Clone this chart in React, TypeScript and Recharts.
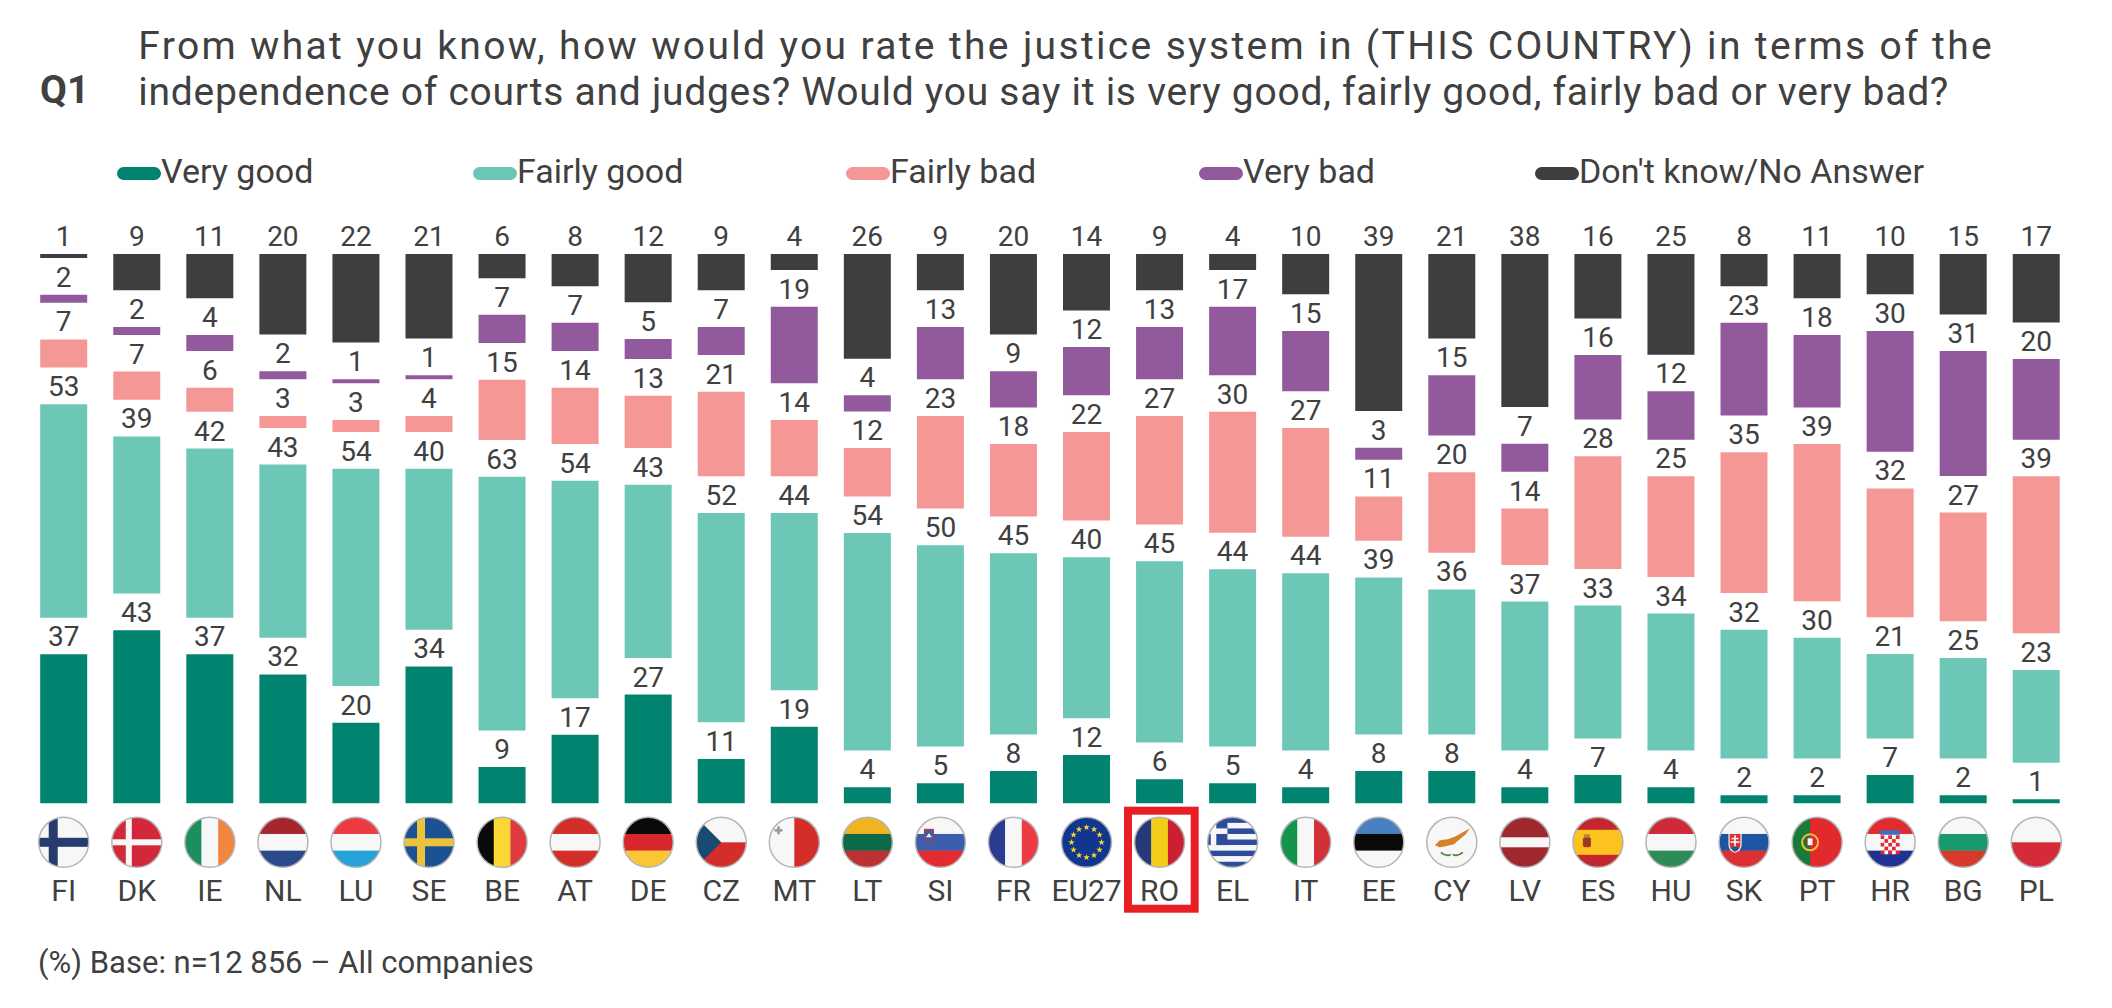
import React from 'react';
import { BarChart, Bar, XAxis, YAxis, Legend, LabelList } from 'recharts';

const countries = ['FI', 'DK', 'IE', 'NL', 'LU', 'SE', 'BE', 'AT', 'DE', 'CZ', 'MT', 'LT', 'SI', 'FR', 'EU27', 'RO', 'EL', 'IT', 'EE', 'CY', 'LV', 'ES', 'HU', 'SK', 'PT', 'HR', 'BG', 'PL'];
const veryGood = [37, 43, 37, 32, 20, 34, 9, 17, 27, 11, 19, 4, 5, 8, 12, 6, 5, 4, 8, 8, 4, 7, 4, 2, 2, 7, 2, 1];
const fairlyGood = [53, 39, 42, 43, 54, 40, 63, 54, 43, 52, 44, 54, 50, 45, 40, 45, 44, 44, 39, 36, 37, 33, 34, 32, 30, 21, 25, 23];
const fairlyBad = [7, 7, 6, 3, 3, 4, 15, 14, 13, 21, 14, 12, 23, 18, 22, 27, 30, 27, 11, 20, 14, 28, 25, 35, 39, 32, 27, 39];
const veryBad = [2, 2, 4, 2, 1, 1, 7, 7, 5, 7, 19, 4, 13, 9, 12, 13, 17, 15, 3, 15, 7, 16, 12, 23, 18, 30, 31, 20];
const dontKnow = [1, 9, 11, 20, 22, 21, 6, 8, 12, 9, 4, 26, 9, 20, 14, 9, 4, 10, 39, 21, 38, 16, 25, 8, 11, 10, 15, 17];

const seriesKeys = ['veryGood', 'fairlyGood', 'fairlyBad', 'veryBad', 'dontKnow'];
const highlighted = 'RO';

// white spacer between stacked segments (room for the value labels)
const GAP = 9.1;
const TOTAL = 100 + 4 * GAP;

const FONT = "Roboto, 'DejaVu Sans', sans-serif";
const TEXT = '#404040';
const COLORS = {
  veryGood: '#00836f',
  fairlyGood: '#6cc7b6',
  fairlyBad: '#f49795',
  veryBad: '#93599d',
  dontKnow: '#3e3e40',
};
const LEGEND_X = [117, 473, 846, 1199, 1535];

const data = countries.map((country, i) => ({
  country,
  veryGood: veryGood[i],
  gap1: GAP,
  fairlyGood: fairlyGood[i],
  gap2: GAP,
  fairlyBad: fairlyBad[i],
  gap3: GAP,
  veryBad: veryBad[i],
  gap4: GAP,
  dontKnow: dontKnow[i],
}));

const R = 25;

const hStripes = (cols: string[]) =>
  cols.map((c, i) => (
    <rect key={'h' + i} x={-R} y={-R + (i * 2 * R) / cols.length} width={2 * R} height={(2 * R) / cols.length + 0.3} fill={c} />
  ));

const vStripes = (cols: string[]) =>
  cols.map((c, i) => (
    <rect key={'v' + i} x={-R + (i * 2 * R) / cols.length} y={-R} width={(2 * R) / cols.length + 0.3} height={2 * R} fill={c} />
  ));

const starPoints = (cx: number, cy: number, ro: number) => {
  const pts: string[] = [];
  for (let k = 0; k < 10; k++) {
    const rr = k % 2 === 0 ? ro : ro * 0.42;
    const a = -Math.PI / 2 + (k * Math.PI) / 5;
    pts.push(`${cx + rr * Math.cos(a)},${cy + rr * Math.sin(a)}`);
  }
  return pts.join(' ');
};

const flagShapes = (code: string) => {
  switch (code) {
    case 'FI':
      return [
        <rect key="b" x={-R} y={-R} width={2 * R} height={2 * R} fill="#f7f7f7" />,
        <rect key="v" x={-15} y={-R} width={9} height={2 * R} fill="#283b6e" />,
        <rect key="h" x={-R} y={-4.5} width={2 * R} height={9} fill="#283b6e" />,
      ];
    case 'DK':
      return [
        <rect key="b" x={-R} y={-R} width={2 * R} height={2 * R} fill="#d2283a" />,
        <rect key="v" x={-11} y={-R} width={6} height={2 * R} fill="#f7f7f7" />,
        <rect key="h" x={-R} y={-3} width={2 * R} height={6} fill="#f7f7f7" />,
      ];
    case 'SE':
      return [
        <rect key="b" x={-R} y={-R} width={2 * R} height={2 * R} fill="#1c5193" />,
        <rect key="v" x={-12} y={-R} width={8} height={2 * R} fill="#e9c43c" />,
        <rect key="h" x={-R} y={-4} width={2 * R} height={8} fill="#e9c43c" />,
      ];
    case 'IE':
      return vStripes(['#1d8f5e', '#f7f7f7', '#f2863f']);
    case 'NL':
      return hStripes(['#a6262f', '#f7f7f7', '#2a4a8c']);
    case 'LU':
      return hStripes(['#ee3a43', '#f7f7f7', '#25a3d8']);
    case 'BE':
      return vStripes(['#0a0a0a', '#fcd733', '#e03a3e']);
    case 'AT':
      return hStripes(['#d42e2a', '#f7f7f7', '#d42e2a']);
    case 'DE':
      return hStripes(['#0a0a0a', '#d8262e', '#fbc636']);
    case 'CZ':
      return [
        ...hStripes(['#f7f7f7', '#d42e2a']),
        <polygon key="t" points={`${-R},${-R} 0,0 ${-R},${R}`} fill="#174b73" />,
      ];
    case 'MT':
      return [
        ...vStripes(['#f7f7f7', '#d42e2a']),
        <rect key="c1" x={-17} y={-16} width={2.5} height={8} fill="#999" />,
        <rect key="c2" x={-19.8} y={-13.2} width={8} height={2.5} fill="#999" />,
      ];
    case 'LT':
      return hStripes(['#f2b320', '#0b6b48', '#bf3030']);
    case 'SI':
      return [
        ...hStripes(['#f7f7f7', '#3c5fad', '#e42b30']),
        <path key="s" d="M-16,-13 L-7,-13 L-7,-5 Q-7,0 -11.5,2 Q-16,0 -16,-5 Z" fill="#3c5fad" stroke="#d42e2a" strokeWidth={1} />,
        <path key="m" d="M-14.5,-5 L-11.5,-9 L-8.5,-5 Z" fill="#f7f7f7" />,
      ];
    case 'FR':
      return vStripes(['#2b3b8f', '#f7f7f7', '#ed3b45']);
    case 'EU27': {
      const stars = [];
      for (let k = 0; k < 12; k++) {
        const a = (k * Math.PI) / 6;
        stars.push(<polygon key={'s' + k} points={starPoints(15 * Math.cos(a), 15 * Math.sin(a), 3.4)} fill="#f6d32a" />);
      }
      return [<rect key="b" x={-R} y={-R} width={2 * R} height={2 * R} fill="#11368f" />, ...stars];
    }
    case 'RO':
      return vStripes(['#273a78', '#f1cd1a', '#cc2032']);
    case 'EL': {
      const h = (2 * R) / 9;
      const out = [];
      for (let k = 0; k < 9; k++) {
        out.push(<rect key={'g' + k} x={-R} y={-R + k * h} width={2 * R} height={h + 0.2} fill={k % 2 === 0 ? '#2d4c9b' : '#f7f7f7'} />);
      }
      const cx0 = -R - 8;
      out.push(<rect key="c" x={cx0} y={-R} width={5 * h} height={5 * h} fill="#2d4c9b" />);
      out.push(<rect key="ch" x={cx0} y={-R + 2 * h} width={5 * h} height={h} fill="#f7f7f7" />);
      out.push(<rect key="cv" x={cx0 + 2 * h} y={-R} width={h} height={5 * h} fill="#f7f7f7" />);
      return out;
    }
    case 'IT':
      return vStripes(['#14934a', '#f7f7f7', '#d22f36']);
    case 'EE':
      return hStripes(['#4980c0', '#0a0a0a', '#f7f7f7']);
    case 'CY':
      return [
        <rect key="b" x={-R} y={-R} width={2 * R} height={2 * R} fill="#f7f7f7" />,
        <path key="i" d="M-17,3 L-12,-2 L-4,-3 L4,-6 L11,-10 L18,-14 L14,-8 L8,-3 L2,2 L-6,4 L-12,5 Z" fill="#d4822a" />,
        <path key="o1" d="M-11,10 Q-5,15 -1,12" stroke="#4b7a35" strokeWidth={1.6} fill="none" />,
        <path key="o2" d="M11,10 Q5,15 1,12" stroke="#4b7a35" strokeWidth={1.6} fill="none" />,
      ];
    case 'LV':
      return [
        <rect key="b" x={-R} y={-R} width={2 * R} height={2 * R} fill="#a0282f" />,
        <rect key="w" x={-R} y={-5} width={2 * R} height={10} fill="#f7f7f7" />,
      ];
    case 'ES':
      return [
        <rect key="b" x={-R} y={-R} width={2 * R} height={2 * R} fill="#c4272f" />,
        <rect key="y" x={-R} y={-12.5} width={2 * R} height={25} fill="#fcc21d" />,
        <rect key="e" x={-15} y={-5} width={8} height={10} rx={2} fill="#9a3a26" />,
        <rect key="k" x={-14} y={-8} width={6} height={3} fill="#b58a2a" />,
      ];
    case 'HU':
      return hStripes(['#cf2a3a', '#f7f7f7', '#2e8a57']);
    case 'SK':
      return [
        ...hStripes(['#f7f7f7', '#1f56a3', '#dd3034']),
        <path key="s" d="M-15,-9 L-3,-9 L-3,2 Q-3,8 -9,10 Q-15,8 -15,2 Z" fill="#dd3034" stroke="#f7f7f7" strokeWidth={1.2} />,
        <rect key="cv" x={-9.8} y={-7} width={1.6} height={12} fill="#f7f7f7" />,
        <rect key="c1" x={-12.5} y={-4.5} width={7} height={1.5} fill="#f7f7f7" />,
        <rect key="c2" x={-13.5} y={-1} width={9} height={1.5} fill="#f7f7f7" />,
        <path key="h" d="M-13,6 Q-9,2 -5,6 Q-7,9 -9,9.5 Q-11,9 -13,6 Z" fill="#1f56a3" />,
      ];
    case 'PT':
      return [
        <rect key="b" x={-R} y={-R} width={2 * R} height={2 * R} fill="#e1292e" />,
        <rect key="g" x={-R} y={-R} width={18} height={2 * R} fill="#1a7a3a" />,
        <circle key="a" cx={-7} cy={0} r={8} fill="none" stroke="#f1c232" strokeWidth={2} />,
        <rect key="s" x={-10} y={-4.5} width={6} height={8} rx={1.5} fill="#f7f7f7" stroke="#c41e2a" strokeWidth={1} />,
      ];
    case 'HR': {
      const out = [...hStripes(['#e12b2f', '#f7f7f7', '#1f3295'])];
      const s = 3.8;
      for (let r = 0; r < 5; r++) {
        for (let c = 0; c < 5; c++) {
          out.push(
            <rect key={`q${r}-${c}`} x={-9.5 + c * s} y={-7 + r * s} width={s} height={s} fill={(r + c) % 2 === 0 ? '#e12b2f' : '#f7f7f7'} />
          );
        }
      }
      out.push(<rect key="cr" x={-10} y={-12} width={20} height={4.5} fill="#3b6fc4" />);
      return out;
    }
    case 'BG':
      return hStripes(['#f7f7f7', '#1a9a6c', '#d63a2a']);
    case 'PL':
      return hStripes(['#f7f7f7', '#d42a3a']);
    default:
      return [];
  }
};

const CountryTick = (props: any) => {
  const { x, y, payload } = props;
  const code = payload.value as string;
  const cy = y + 39;
  const clipId = 'flag-' + code;
  return (
    <g>
      {code === highlighted && (
        <rect x={x - 31.6} y={y + 7.4} width={66.7} height={98} fill="none" stroke="#e81e25" strokeWidth={8} />
      )}
      <defs>
        <clipPath id={clipId}>
          <circle cx={0} cy={0} r={R} />
        </clipPath>
      </defs>
      <g transform={`translate(${x},${cy})`}>
        <g clipPath={`url(#${clipId})`}>{flagShapes(code)}</g>
        <circle cx={0} cy={0} r={R} fill="none" stroke="#b5b5b5" strokeWidth={1.5} />
      </g>
      <text x={x} y={y + 98} textAnchor="middle" fontSize={30} fontFamily={FONT} fill={TEXT}>
        {code}
      </text>
    </g>
  );
};

const renderLegend = (props: any) => {
  const items = (props.payload || [])
    .filter((p: any) => p.type !== 'none' && seriesKeys.includes(p.dataKey))
    .sort((a: any, b: any) => seriesKeys.indexOf(a.dataKey) - seriesKeys.indexOf(b.dataKey));
  return (
    <div style={{ position: 'relative', width: 2112, height: 40 }}>
      {items.map((p: any, i: number) => (
        <div
          key={p.value}
          style={{ position: 'absolute', left: LEGEND_X[i], top: 0, display: 'flex', alignItems: 'flex-start', height: 40 }}
        >
          <span style={{ display: 'block', width: 44, height: 13, marginTop: 16, borderRadius: 7, background: p.color }} />
          <span style={{ fontSize: 34, lineHeight: '40px', color: TEXT, fontFamily: FONT, whiteSpace: 'nowrap' }}>{p.value}</span>
        </div>
      ))}
    </div>
  );
};

const labelProps = {
  position: 'top' as const,
  offset: 8,
  fill: TEXT,
  fontSize: 28,
  fontFamily: FONT,
};

const App = () => {
  return (
    <div style={{ position: 'absolute', left: 0, top: 0, width: 2112, height: 1008, background: '#fff', fontFamily: FONT }}>
      <BarChart
        width={2112}
        height={1008}
        data={data}
        margin={{ top: 254, right: 39.2, bottom: 54.7, left: 27.2 }}
        barSize={47}
      >
        <XAxis
          dataKey="country"
          interval={0}
          axisLine={false}
          tickLine={false}
          tickSize={0}
          tickMargin={0}
          height={150}
          tick={(p: any) => <CountryTick {...p} />}
        />
        <YAxis hide domain={[0, TOTAL]} />
        <Legend
          layout="vertical"
          verticalAlign="middle"
          align="center"
          content={renderLegend}
          wrapperStyle={{ left: 0, top: 151, width: 2112, height: 40 }}
        />
        <Bar dataKey="veryGood" name="Very good" stackId="a" fill={COLORS.veryGood} isAnimationActive={false}>
          <LabelList dataKey="veryGood" {...labelProps} />
        </Bar>
        <Bar dataKey="gap1" stackId="a" fill="transparent" legendType="none" isAnimationActive={false} />
        <Bar dataKey="fairlyGood" name="Fairly good" stackId="a" fill={COLORS.fairlyGood} isAnimationActive={false}>
          <LabelList dataKey="fairlyGood" {...labelProps} />
        </Bar>
        <Bar dataKey="gap2" stackId="a" fill="transparent" legendType="none" isAnimationActive={false} />
        <Bar dataKey="fairlyBad" name="Fairly bad" stackId="a" fill={COLORS.fairlyBad} isAnimationActive={false}>
          <LabelList dataKey="fairlyBad" {...labelProps} />
        </Bar>
        <Bar dataKey="gap3" stackId="a" fill="transparent" legendType="none" isAnimationActive={false} />
        <Bar dataKey="veryBad" name="Very bad" stackId="a" fill={COLORS.veryBad} isAnimationActive={false}>
          <LabelList dataKey="veryBad" {...labelProps} />
        </Bar>
        <Bar dataKey="gap4" stackId="a" fill="transparent" legendType="none" isAnimationActive={false} />
        <Bar dataKey="dontKnow" name="Don't know/No Answer" stackId="a" fill={COLORS.dontKnow} isAnimationActive={false}>
          <LabelList dataKey="dontKnow" {...labelProps} />
        </Bar>
      </BarChart>
      <svg width={2112} height={1008} style={{ position: 'absolute', left: 0, top: 0, pointerEvents: 'none' }}>
        <text x={40} y={102.7} fontSize={39} fontWeight="bold" fontFamily={FONT} fill={TEXT}>
          Q1
        </text>
        <text x={138.3} y={59.3} fontSize={39} fontFamily={FONT} fill={TEXT} textLength={1853.4} lengthAdjust="spacing">
          From what you know, how would you rate the justice system in (THIS COUNTRY) in terms of the
        </text>
        <text x={138.3} y={105} fontSize={39} fontFamily={FONT} fill={TEXT} textLength={1810} lengthAdjust="spacing">
          independence of courts and judges? Would you say it is very good, fairly good, fairly bad or very bad?
        </text>
        <text x={38} y={973} fontSize={31} fontFamily={FONT} fill={TEXT}>
          (%) Base: n=12 856 – All companies
        </text>
      </svg>
    </div>
  );
};

export default App;
